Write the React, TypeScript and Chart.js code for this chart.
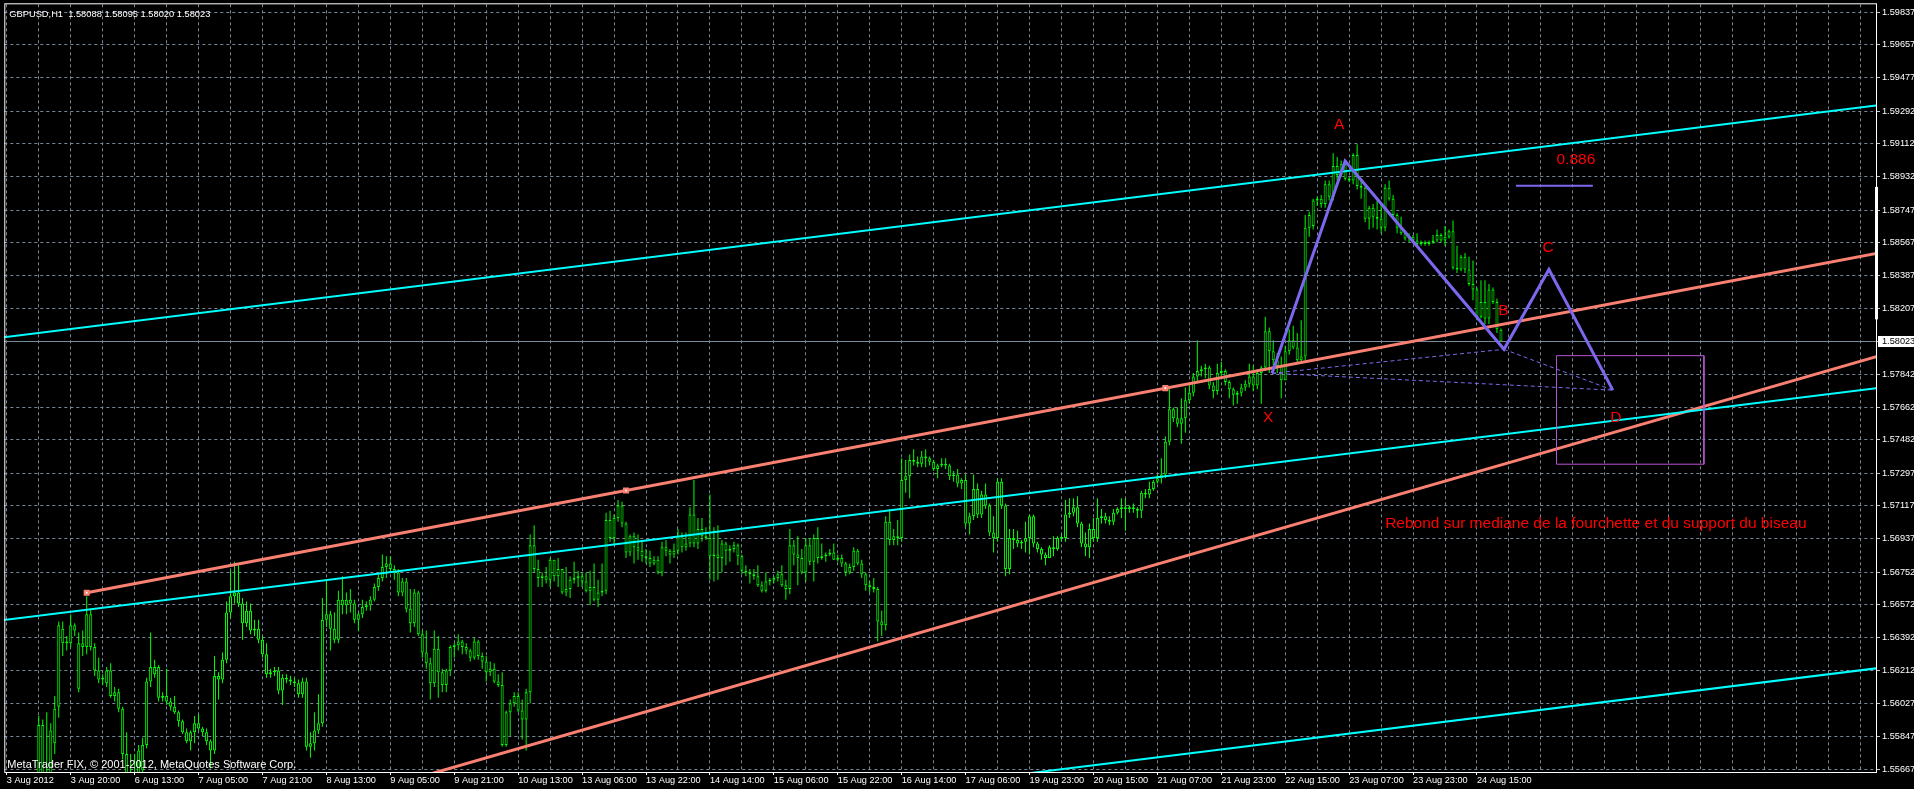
import React, { useEffect, useRef } from "react";
import { Chart, registerables } from "chart.js";

Chart.register(...registerables);

const FONT = '"Liberation Sans", Arial, sans-serif';
const symbol = "GBPUSD,H1";
const watermark = "MetaTrader FIX, \u00A9 2001-2012, MetaQuotes Software Corp.";

// x-axis labels, one every 16 hourly bars starting at bar 0
const xLabels = [
  "3 Aug 2012", "3 Aug 20:00", "6 Aug 13:00", "7 Aug 05:00", "7 Aug 21:00", "8 Aug 13:00",
  "9 Aug 05:00", "9 Aug 21:00", "10 Aug 13:00", "13 Aug 06:00", "13 Aug 22:00", "14 Aug 14:00",
  "15 Aug 06:00", "15 Aug 22:00", "16 Aug 14:00", "17 Aug 06:00", "19 Aug 23:00", "20 Aug 15:00",
  "21 Aug 07:00", "21 Aug 23:00", "22 Aug 15:00", "23 Aug 07:00", "23 Aug 23:00", "24 Aug 15:00",
];
const xLabelStep = 16;
const xGridStep = 8;

// price scale labels
const yTickValues = [
  1.59837, 1.59657, 1.59477, 1.59292, 1.59112, 1.58932, 1.58747, 1.58567, 1.58387, 1.58207,
  1.58023, 1.57842, 1.57662, 1.57482, 1.57297, 1.57117, 1.56937, 1.56752, 1.56572, 1.56392,
  1.56212, 1.56027, 1.55847, 1.55667,
];
const currentPrice = 1.58023;
const yMin = 1.55651;
const yMax = 1.59881;
const xMin = -0.625;
const xMax = 467.875;
const rangeMarker = [1.58145, 1.58875];

// GBPUSD H1 candles (bar 0 = 3 Aug 2012)
const openP = [
  1.5535,1.5540,1.5545,1.5550,1.5547,1.5542,1.5550,1.5556,1.5552,1.5591,
  1.5558,1.5560,1.5581,1.5601,1.5644,1.5636,1.5636,1.5646,1.5611,1.5634,
  1.5634,1.5652,1.5634,1.5621,1.5616,1.5614,1.5621,1.5607,1.5609,1.5600,
  1.5575,1.5564,1.5560,1.5562,1.5566,1.5580,1.5615,1.5619,1.5623,1.5606,
  1.5607,1.5604,1.5601,1.5598,1.5593,1.5587,1.5582,1.5587,1.5592,1.5589,
  1.5587,1.5582,1.5577,1.5618,1.5616,1.5627,1.5653,1.5662,1.5664,1.5658,
  1.5647,1.5654,1.5643,1.5644,1.5638,1.5630,1.5619,1.5620,1.5621,1.5610,
  1.5617,1.5616,1.5615,1.5614,1.5608,1.5615,1.5579,1.5581,1.5588,1.5592,
  1.5649,1.5652,1.5644,1.5638,1.5660,1.5657,1.5660,1.5658,1.5649,1.5652,
  1.5656,1.5657,1.5660,1.5667,1.5672,1.5678,1.5680,1.5677,1.5675,1.5664,
  1.5670,1.5655,1.5647,1.5664,1.5641,1.5631,1.5625,1.5614,1.5633,1.5620,
  1.5613,1.5621,1.5634,1.5635,1.5637,1.5634,1.5632,1.5628,1.5637,1.5629,
  1.5626,1.5620,1.5622,1.5615,1.5613,1.5580,1.5598,1.5603,1.5607,1.5599,
  1.5594,1.5609,1.5690,1.5677,1.5672,1.5673,1.5671,1.5682,1.5673,1.5677,
  1.5664,1.5666,1.5671,1.5672,1.5673,1.5670,1.5665,1.5667,1.5660,1.5664,
  1.5665,1.5704,1.5694,1.5705,1.5712,1.5702,1.5686,1.5695,1.5689,1.5687,
  1.5684,1.5683,1.5680,1.5682,1.5675,1.5689,1.5687,1.5685,1.5687,1.5695,
  1.5689,1.5691,1.5707,1.5691,1.5699,1.5695,1.5694,1.5684,1.5685,1.5683,
  1.5691,1.5687,1.5688,1.5690,1.5684,1.5676,1.5675,1.5674,1.5673,1.5668,
  1.5665,1.5670,1.5671,1.5672,1.5674,1.5668,1.5666,1.5690,1.5685,1.5683,
  1.5675,1.5690,1.5681,1.5694,1.5683,1.5684,1.5685,1.5686,1.5682,1.5683,
  1.5680,1.5675,1.5678,1.5687,1.5680,1.5674,1.5668,1.5667,1.5666,1.5648,
  1.5646,1.5703,1.5693,1.5695,1.5694,1.5726,1.5728,1.5737,1.5736,1.5735,
  1.5739,1.5738,1.5736,1.5732,1.5734,1.5735,1.5734,1.5728,1.5729,1.5724,
  1.5726,1.5702,1.5706,1.5721,1.5707,1.5718,1.5712,1.5697,1.5694,1.5725,
  1.5712,1.5677,1.5694,1.5693,1.5691,1.5692,1.5694,1.5706,1.5691,1.5688,
  1.5685,1.5683,1.5689,1.5688,1.5694,1.5694,1.5707,1.5708,1.5711,1.5702,
  1.5691,1.5689,1.5699,1.5694,1.5705,1.5706,1.5704,1.5703,1.5708,1.5710,
  1.5711,1.5710,1.5711,1.5710,1.5709,1.5719,1.5718,1.5721,1.5725,1.5727,
  1.5729,1.5747,1.5765,1.5760,1.5757,1.5760,1.5770,1.5774,1.5783,1.5786,
  1.5787,1.5788,1.5778,1.5775,1.5785,1.5786,1.5780,1.5776,1.5773,1.5774,
  1.5777,1.5779,1.5783,1.5778,1.5785,1.5788,1.5808,1.5797,1.5792,1.5789,
  1.5781,1.5797,1.5803,1.5799,1.5792,1.5794,1.5865,1.5866,1.5880,1.5881,
  1.5878,1.5889,1.5882,1.5899,1.5894,1.5900,1.5892,1.5891,1.5905,1.5888,
  1.5887,1.5870,1.5876,1.5871,1.5870,1.5865,1.5887,1.5881,1.5872,1.5865,
  1.5862,1.5859,1.5860,1.5858,1.5856,1.5857,1.5856,1.5857,1.5858,1.5861,
  1.5858,1.5860,1.5863,1.5843,1.5842,1.5849,1.5842,1.5834,1.5831,1.5816,
  1.5824,1.5815,1.5831,1.5824,1.58088,
];
const highP = [
  1.5548,1.5552,1.5556,1.5560,1.5558,1.5555,1.5562,1.5564,1.5596,1.5594,
  1.5598,1.5592,1.5607,1.5648,1.5648,1.5640,1.5652,1.5647,1.5642,1.5643,
  1.5662,1.5655,1.5636,1.5628,1.5619,1.5623,1.5625,1.5612,1.5611,1.5601,
  1.5587,1.5575,1.5575,1.5580,1.5584,1.5617,1.5642,1.5627,1.5624,1.5609,
  1.5622,1.5606,1.5607,1.5599,1.5594,1.5589,1.5588,1.5596,1.5597,1.5590,
  1.5589,1.5583,1.5629,1.5620,1.5631,1.5659,1.5676,1.5681,1.5679,1.5661,
  1.5659,1.5658,1.5649,1.5649,1.5640,1.5636,1.5622,1.5623,1.5623,1.5619,
  1.5619,1.5618,1.5617,1.5616,1.5617,1.5617,1.5587,1.5598,1.5608,1.5661,
  1.5671,1.5654,1.5653,1.5665,1.5673,1.5664,1.5666,1.5660,1.5653,1.5660,
  1.5659,1.5662,1.5669,1.5674,1.5685,1.5684,1.5684,1.5679,1.5677,1.5672,
  1.5672,1.5666,1.5666,1.5665,1.5643,1.5643,1.5628,1.5643,1.5640,1.5622,
  1.5622,1.5635,1.5636,1.5641,1.5638,1.5636,1.5633,1.5639,1.5638,1.5631,
  1.5629,1.5626,1.5625,1.5619,1.5620,1.5599,1.5605,1.5609,1.5609,1.5605,
  1.5611,1.5696,1.5701,1.5682,1.5675,1.5678,1.5683,1.5682,1.5683,1.5677,
  1.5678,1.5673,1.5681,1.5676,1.5675,1.5675,1.5676,1.5680,1.5671,1.5680,
  1.5708,1.5709,1.5707,1.5715,1.5714,1.5703,1.5696,1.5697,1.5696,1.5692,
  1.5688,1.5687,1.5684,1.5684,1.5692,1.5693,1.5688,1.5691,1.5699,1.5697,
  1.5697,1.5711,1.5726,1.5705,1.5705,1.5700,1.5718,1.5700,1.5701,1.5693,
  1.5692,1.5690,1.5692,1.5691,1.5685,1.5679,1.5677,1.5677,1.5679,1.5670,
  1.5675,1.5672,1.5673,1.5676,1.5679,1.5671,1.5699,1.5693,1.5695,1.5688,
  1.5694,1.5694,1.5696,1.5700,1.5691,1.5686,1.5688,1.5691,1.5685,1.5685,
  1.5681,1.5680,1.5689,1.5688,1.5682,1.5675,1.5670,1.5672,1.5667,1.5654,
  1.5706,1.5710,1.5699,1.5704,1.5738,1.5737,1.5740,1.5743,1.5739,1.5742,
  1.5743,1.5739,1.5737,1.5735,1.5738,1.5738,1.5735,1.5731,1.5732,1.5727,
  1.5729,1.5708,1.5729,1.5724,1.5720,1.5724,1.5713,1.5706,1.5727,1.5727,
  1.5713,1.5699,1.5699,1.5698,1.5693,1.5703,1.5707,1.5707,1.5692,1.5689,
  1.5686,1.5690,1.5695,1.5695,1.5696,1.5715,1.5716,1.5716,1.5717,1.5703,
  1.5697,1.5702,1.5705,1.5716,1.5710,1.5708,1.5706,1.5710,1.5711,1.5716,
  1.5716,1.5712,1.5713,1.5711,1.5720,1.5721,1.5725,1.5726,1.5729,1.5738,
  1.5750,1.5776,1.5766,1.5766,1.5771,1.5777,1.5779,1.5785,1.5803,1.5789,
  1.5790,1.5789,1.5780,1.5790,1.5791,1.5787,1.5781,1.5777,1.5775,1.5779,
  1.5781,1.5790,1.5789,1.5787,1.5789,1.5816,1.5810,1.5803,1.5796,1.5794,
  1.5800,1.5809,1.5811,1.5807,1.5814,1.5872,1.5874,1.5881,1.5882,1.5883,
  1.5891,1.5891,1.5906,1.5904,1.5902,1.5902,1.5893,1.5906,1.5911,1.5891,
  1.5889,1.5877,1.5878,1.5880,1.5878,1.5889,1.5891,1.5883,1.5873,1.5871,
  1.5863,1.5862,1.5861,1.5862,1.5858,1.5858,1.5858,1.5861,1.5864,1.5862,
  1.5866,1.5864,1.5869,1.5855,1.5850,1.5851,1.5849,1.5847,1.5832,1.5836,
  1.5836,1.5834,1.5832,1.5826,1.58095,
];
const lowP = [
  1.5528,1.5533,1.5538,1.5541,1.5536,1.5530,1.5544,1.5540,1.5548,1.5550,
  1.5545,1.5552,1.5575,1.5595,1.5629,1.5632,1.5634,1.5640,1.5609,1.5629,
  1.5630,1.5632,1.5618,1.5614,1.5613,1.5612,1.5606,1.5604,1.5598,1.5572,
  1.5560,1.5555,1.5552,1.5555,1.5560,1.5578,1.5612,1.5617,1.5604,1.5604,
  1.5602,1.5599,1.5597,1.5590,1.5586,1.5581,1.5577,1.5581,1.5588,1.5585,
  1.5580,1.5567,1.5575,1.5605,1.5614,1.5625,1.5650,1.5658,1.5656,1.5638,
  1.5645,1.5641,1.5640,1.5636,1.5628,1.5617,1.5617,1.5618,1.5608,1.5602,
  1.5614,1.5613,1.5612,1.5606,1.5606,1.5577,1.5573,1.5577,1.5586,1.5590,
  1.5645,1.5632,1.5636,1.5636,1.5652,1.5652,1.5653,1.5647,1.5643,1.5650,
  1.5654,1.5654,1.5659,1.5665,1.5670,1.5672,1.5675,1.5671,1.5662,1.5662,
  1.5653,1.5642,1.5645,1.5640,1.5628,1.5622,1.5605,1.5612,1.5606,1.5609,
  1.5609,1.5618,1.5628,1.5632,1.5630,1.5630,1.5626,1.5627,1.5627,1.5622,
  1.5615,1.5618,1.5614,1.5612,1.5579,1.5579,1.5585,1.5601,1.5598,1.5583,
  1.5577,1.5603,1.5675,1.5667,1.5667,1.5669,1.5667,1.5670,1.5667,1.5663,
  1.5662,1.5661,1.5669,1.5667,1.5667,1.5664,1.5657,1.5659,1.5656,1.5662,
  1.5663,1.5692,1.5690,1.5703,1.5700,1.5683,1.5684,1.5680,1.5682,1.5681,
  1.5680,1.5678,1.5679,1.5674,1.5673,1.5684,1.5680,1.5683,1.5685,1.5686,
  1.5687,1.5689,1.5689,1.5688,1.5692,1.5693,1.5671,1.5670,1.5671,1.5675,
  1.5679,1.5681,1.5686,1.5679,1.5674,1.5673,1.5669,1.5671,1.5667,1.5664,
  1.5664,1.5668,1.5669,1.5670,1.5667,1.5660,1.5663,1.5679,1.5668,1.5674,
  1.5670,1.5679,1.5670,1.5680,1.5682,1.5681,1.5684,1.5682,1.5681,1.5678,
  1.5673,1.5674,1.5676,1.5679,1.5672,1.5665,1.5664,1.5664,1.5637,1.5640,
  1.5643,1.5690,1.5690,1.5690,1.5692,1.5719,1.5716,1.5734,1.5733,1.5733,
  1.5733,1.5734,1.5731,1.5727,1.5733,1.5732,1.5726,1.5725,1.5722,1.5721,
  1.5700,1.5696,1.5704,1.5705,1.5705,1.5710,1.5695,1.5686,1.5692,1.5710,
  1.5673,1.5674,1.5688,1.5689,1.5688,1.5686,1.5685,1.5689,1.5686,1.5682,
  1.5679,1.5683,1.5684,1.5687,1.5692,1.5692,1.5705,1.5706,1.5700,1.5689,
  1.5684,1.5683,1.5692,1.5692,1.5702,1.5702,1.5701,1.5701,1.5707,1.5705,
  1.5698,1.5708,1.5708,1.5705,1.5705,1.5716,1.5716,1.5720,1.5724,1.5724,
  1.5727,1.5745,1.5758,1.5755,1.5746,1.5752,1.5768,1.5772,1.5780,1.5783,
  1.5782,1.5776,1.5771,1.5773,1.5783,1.5778,1.5771,1.5767,1.5768,1.5772,
  1.5775,1.5777,1.5775,1.5776,1.5768,1.5786,1.5785,1.5789,1.5785,1.5771,
  1.5781,1.5795,1.5798,1.5790,1.5791,1.5792,1.5860,1.5864,1.5877,1.5876,
  1.5876,1.5880,1.5880,1.5891,1.5893,1.5891,1.5890,1.5889,1.5886,1.5881,
  1.5868,1.5864,1.5865,1.5864,1.5862,1.5863,1.5880,1.5870,1.5862,1.5861,
  1.5858,1.5857,1.5857,1.5855,1.5855,1.5855,1.5855,1.5856,1.5857,1.5857,
  1.5855,1.5859,1.5842,1.5840,1.5841,1.5840,1.5833,1.5825,1.5814,1.5815,
  1.5812,1.5812,1.5823,1.5807,1.58020,
];
const closeP = [
  1.5540,1.5545,1.5550,1.5547,1.5542,1.5550,1.5556,1.5548,1.5591,1.5558,
  1.5562,1.5588,1.5600,1.5646,1.5636,1.5637,1.5646,1.5643,1.5636,1.5636,
  1.5652,1.5634,1.5621,1.5616,1.5617,1.5621,1.5607,1.5609,1.5600,1.5575,
  1.5564,1.5560,1.5562,1.5577,1.5580,1.5615,1.5623,1.5623,1.5606,1.5607,
  1.5604,1.5601,1.5598,1.5593,1.5587,1.5582,1.5587,1.5592,1.5589,1.5587,
  1.5582,1.5577,1.5618,1.5616,1.5627,1.5653,1.5662,1.5664,1.5658,1.5647,
  1.5654,1.5643,1.5644,1.5638,1.5630,1.5619,1.5620,1.5621,1.5610,1.5617,
  1.5616,1.5615,1.5614,1.5608,1.5615,1.5579,1.5581,1.5588,1.5592,1.5649,
  1.5652,1.5644,1.5638,1.5660,1.5657,1.5660,1.5658,1.5649,1.5652,1.5656,
  1.5657,1.5660,1.5667,1.5672,1.5678,1.5680,1.5677,1.5675,1.5664,1.5670,
  1.5655,1.5647,1.5664,1.5641,1.5631,1.5625,1.5614,1.5633,1.5620,1.5613,
  1.5621,1.5634,1.5635,1.5637,1.5634,1.5632,1.5628,1.5637,1.5629,1.5626,
  1.5620,1.5622,1.5615,1.5613,1.5580,1.5598,1.5603,1.5607,1.5599,1.5594,
  1.5609,1.5690,1.5677,1.5672,1.5673,1.5671,1.5682,1.5673,1.5677,1.5664,
  1.5666,1.5671,1.5672,1.5673,1.5670,1.5665,1.5667,1.5660,1.5664,1.5665,
  1.5704,1.5694,1.5705,1.5712,1.5702,1.5686,1.5695,1.5689,1.5687,1.5684,
  1.5683,1.5680,1.5682,1.5675,1.5689,1.5687,1.5685,1.5687,1.5695,1.5689,
  1.5691,1.5707,1.5691,1.5699,1.5695,1.5694,1.5684,1.5685,1.5683,1.5691,
  1.5687,1.5688,1.5690,1.5684,1.5676,1.5675,1.5674,1.5673,1.5668,1.5665,
  1.5670,1.5671,1.5672,1.5674,1.5668,1.5666,1.5690,1.5685,1.5683,1.5675,
  1.5690,1.5681,1.5694,1.5683,1.5684,1.5685,1.5686,1.5682,1.5683,1.5680,
  1.5675,1.5678,1.5687,1.5680,1.5674,1.5668,1.5667,1.5666,1.5648,1.5646,
  1.5703,1.5693,1.5695,1.5694,1.5726,1.5728,1.5737,1.5736,1.5735,1.5739,
  1.5738,1.5736,1.5732,1.5734,1.5735,1.5734,1.5728,1.5729,1.5724,1.5726,
  1.5702,1.5706,1.5721,1.5707,1.5718,1.5712,1.5697,1.5694,1.5725,1.5712,
  1.5677,1.5694,1.5693,1.5691,1.5692,1.5694,1.5706,1.5691,1.5688,1.5685,
  1.5683,1.5689,1.5688,1.5694,1.5694,1.5707,1.5708,1.5711,1.5702,1.5691,
  1.5689,1.5699,1.5694,1.5705,1.5706,1.5704,1.5703,1.5708,1.5710,1.5711,
  1.5710,1.5711,1.5710,1.5709,1.5719,1.5718,1.5721,1.5725,1.5727,1.5729,
  1.5747,1.5765,1.5760,1.5757,1.5760,1.5770,1.5774,1.5783,1.5786,1.5787,
  1.5788,1.5778,1.5775,1.5785,1.5786,1.5780,1.5776,1.5773,1.5774,1.5777,
  1.5779,1.5783,1.5778,1.5785,1.5788,1.5808,1.5797,1.5792,1.5789,1.5781,
  1.5797,1.5803,1.5799,1.5792,1.5794,1.5865,1.5872,1.5880,1.5881,1.5878,
  1.5889,1.5882,1.5899,1.5894,1.5900,1.5892,1.5891,1.5905,1.5888,1.5887,
  1.5870,1.5876,1.5871,1.5870,1.5865,1.5887,1.5881,1.5872,1.5865,1.5862,
  1.5859,1.5860,1.5858,1.5856,1.5857,1.5856,1.5857,1.5858,1.5861,1.5858,
  1.5860,1.5863,1.5843,1.5842,1.5849,1.5842,1.5834,1.5831,1.5816,1.5824,
  1.5815,1.5831,1.5824,1.5809,1.58023,
];

// drawn objects (bar index, price)
const cyanUpper = [{ x: -1, y: 1.58046 }, { x: 469, y: 1.59327 }];
const cyanMiddle = [{ x: -1, y: 1.56488 }, { x: 469, y: 1.57769 }];
const cyanLower = [{ x: -1, y: 1.54944 }, { x: 469, y: 1.56225 }];
const salmonUpper = [{ x: 20, y: 1.56639 }, { x: 469, y: 1.58513 }];
const salmonAnchors = [{ x: 20, y: 1.56639 }, { x: 155, y: 1.57202 }, { x: 290, y: 1.57766 }];
const salmonLower = [{ x: 100, y: 1.55602 }, { x: 469, y: 1.57946 }];
const ptX = { x: 316.7, y: 1.57848 };
const ptA = { x: 335, y: 1.59017 };
const ptB = { x: 374.75, y: 1.5798 };
const ptC = { x: 386, y: 1.5842 };
const ptD = { x: 402, y: 1.57755 };
const fibLine = [{ x: 377.75, y: 1.58881 }, { x: 397, y: 1.58881 }];
const targetBox = { x1: 387.9, x2: 424.8, top: 1.57945, bottom: 1.57347 };
const priceLine = [{ x: -1, y: currentPrice }, { x: 469, y: currentPrice }];

const textNotes = [
  { text: "A", i: 333.5, p: 1.59223 },
  { text: "B", i: 374.6, p: 1.58201 },
  { text: "C", i: 385.8, p: 1.58544 },
  { text: "D", i: 402.75, p: 1.57612 },
  { text: "X", i: 315.7, p: 1.57612 },
  { text: "0.886", i: 392.75, p: 1.5903 },
  { text: "Rebond sur mediane de la fourchette et du support du biseau", i: 397.75, p: 1.57026 },
];

const CYAN = "#00ffff";
const SALMON = "#fa8072";
const SLATE = "#7b68ee";
const ORCHID = "#ba55d3";
const LIME = "#00ff00";
const GRID = "#778899";

const lineDs = (data: any[], color: string, width: number, dash: number[] = [], order = 5) => ({
  type: "line",
  data,
  borderColor: color,
  borderWidth: width,
  borderDash: dash,
  pointRadius: 0,
  pointHoverRadius: 0,
  fill: false,
  tension: 0,
  order,
  clip: 0,
});

const overlayPlugin = {
  id: "overlay",
  afterDatasetsDraw(chart: any) {
    const { ctx, chartArea: a, scales } = chart;
    const xs = scales.x;
    const ys = scales.y;
    const n = closeP.length - 1;
    const title = `${symbol}  ${openP[n].toFixed(5)} ${highP[n].toFixed(5)} ${lowP[n].toFixed(5)} ${closeP[n].toFixed(5)}`;
    ctx.save();
    ctx.beginPath();
    ctx.rect(a.left, a.top, a.right - a.left, a.bottom - a.top);
    ctx.clip();
    ctx.fillStyle = "#ff0000";
    ctx.font = `15.5px ${FONT}`;
    ctx.textAlign = "center";
    ctx.textBaseline = "alphabetic";
    for (const t of textNotes) {
      ctx.fillText(t.text, xs.getPixelForValue(t.i), ys.getPixelForValue(t.p) + 5.5);
    }
    ctx.fillStyle = "#ffffff";
    ctx.textAlign = "left";
    ctx.font = `11px ${FONT}`;
    ctx.fillText(watermark, a.left + 3, a.bottom - 4);
    ctx.font = `9.3px ${FONT}`;
    ctx.fillText(title, a.left + 5, a.top + 12.5);
    ctx.restore();

    ctx.save();
    ctx.strokeStyle = "#ffffff";
    ctx.lineWidth = 1;
    ctx.strokeRect(a.left + 0.5, a.top - 0.5, a.right - a.left, a.bottom - a.top + 1);
    const y1 = ys.getPixelForValue(rangeMarker[1]);
    const y2 = ys.getPixelForValue(rangeMarker[0]);
    ctx.fillStyle = "#ffffff";
    ctx.fillRect(a.right - 1, y1, 3, y2 - y1);
    ctx.restore();
  },
};

export default function App() {
  const ref = useRef<HTMLCanvasElement>(null);

  useEffect(() => {
    document.body.style.margin = "0";
    document.body.style.background = "#000";
    const idx = closeP.map((_, i) => i);
    const wickData = idx.map((i) => ({ x: i, y: [lowP[i], highP[i]] }));
    const bodyData = idx.map((i) => ({
      x: i,
      y: [Math.min(openP[i], closeP[i]), Math.max(openP[i], closeP[i])],
    }));
    const gridIdx: number[] = [];
    for (let v = 0; v <= xMax; v += xGridStep) gridIdx.push(v);

    const boxData = [
      { x: targetBox.x1, y: targetBox.top },
      { x: targetBox.x2, y: targetBox.top },
      { x: targetBox.x2, y: targetBox.bottom },
      { x: targetBox.x1, y: targetBox.bottom },
      { x: targetBox.x1, y: targetBox.top },
    ];

    const chart = new Chart(ref.current as HTMLCanvasElement, {
      type: "bar",
      data: {
        datasets: [
          {
            type: "bar",
            label: "wick",
            data: wickData,
            backgroundColor: LIME,
            borderWidth: 0,
            maxBarThickness: 1,
            barPercentage: 1,
            categoryPercentage: 1,
            grouped: false,
            order: 20,
            clip: 0,
            inflateAmount: 0,
          },
          {
            type: "bar",
            label: "body",
            data: bodyData,
            backgroundColor: "#000000",
            borderColor: LIME,
            borderWidth: 1,
            borderSkipped: false,
            maxBarThickness: 3,
            barPercentage: 1,
            categoryPercentage: 1,
            minBarLength: 1,
            grouped: false,
            order: 19,
            clip: 0,
            inflateAmount: 0,
          },
          lineDs(priceLine, GRID, 1, [], 9),
          lineDs(cyanUpper, CYAN, 2),
          lineDs(cyanMiddle, CYAN, 2),
          lineDs(cyanLower, CYAN, 2),
          lineDs(salmonUpper, SALMON, 3),
          lineDs(salmonLower, SALMON, 3),
          {
            type: "line",
            data: salmonAnchors,
            showLine: false,
            pointStyle: "rect",
            pointRadius: 4.3,
            pointBackgroundColor: SALMON,
            pointBorderWidth: 0,
            order: 4,
            clip: 0,
          },
          {
            type: "line",
            data: salmonAnchors,
            showLine: false,
            pointStyle: "rect",
            pointRadius: 1.2,
            pointBackgroundColor: "#ffffff",
            pointBorderWidth: 0,
            order: 3,
            clip: 0,
          },
          lineDs(boxData, ORCHID, 1, [], 4),
          lineDs([ptX, ptB], SLATE, 1, [4, 3], 3),
          lineDs([ptB, ptD], SLATE, 1, [4, 3], 3),
          lineDs([ptX, ptD], SLATE, 1, [4, 3], 3),
          lineDs(fibLine, SLATE, 2, [], 2),
          lineDs([ptX, ptA, ptB, ptC, ptD], SLATE, 3, [], 1),
        ] as any,
      },
      options: {
        responsive: false,
        animation: false,
        devicePixelRatio: 1,
        events: [],
        layout: { padding: { left: 2, top: 2, right: 0, bottom: 0 } },
        plugins: { legend: { display: false }, tooltip: { enabled: false } },
        scales: {
          x: {
            type: "linear",
            position: "bottom",
            offset: false,
            min: xMin,
            max: xMax,
            afterBuildTicks: (s: any) => {
              s.ticks = gridIdx.map((v) => ({ value: v }));
            },
            afterFit: (s: any) => {
              s.height = 17;
              s.paddingLeft = 0;
              s.paddingRight = 0;
            },
            ticks: {
              color: "#ffffff",
              font: { family: FONT, size: 9.2 },
              align: "start",
              maxRotation: 0,
              minRotation: 0,
              autoSkip: false,
              padding: 0,
              callback: (v: any) => {
                const k = Number(v) / xLabelStep;
                return Number.isInteger(k) && k < xLabels.length ? xLabels[k] : "";
              },
            },
            grid: {
              offset: false,
              color: GRID,
              lineWidth: 1,
              tickLength: 3,
              tickColor: (c: any) => {
                const k = c.tick ? c.tick.value / xLabelStep : -1;
                return Number.isInteger(k) && k >= 0 && k < xLabels.length ? "#ffffff" : "rgba(0,0,0,0)";
              },
            },
            border: { display: false, dash: [3, 3] },
          },
          y: {
            type: "linear",
            position: "right",
            offset: false,
            min: yMin,
            max: yMax,
            afterBuildTicks: (s: any) => {
              s.ticks = yTickValues.map((v) => ({ value: v }));
            },
            afterFit: (s: any) => {
              s.width = 38;
              s.paddingTop = 0;
              s.paddingBottom = 0;
            },
            ticks: {
              color: (c: any) => (c.tick && c.tick.value === currentPrice ? "#000000" : "#ffffff"),
              font: { family: FONT, size: 9.2 },
              padding: 2,
              autoSkip: false,
              crossAlign: "near",
              showLabelBackdrop: (c: any) => !!(c.tick && c.tick.value === currentPrice),
              backdropColor: "#ffffff",
              backdropPadding: { left: 4, right: 6, top: 0, bottom: 0 },
              callback: (v: any) => Number(v).toFixed(5),
            },
            grid: {
              offset: false,
              color: GRID,
              lineWidth: 1,
              tickLength: 4,
              tickColor: "#c8c8c8",
            },
            border: { display: false, dash: [3, 3] },
          },
        },
      } as any,
      plugins: [overlayPlugin],
    });
    return () => chart.destroy();
  }, []);

  return (
    <div style={{ position: "fixed", left: 0, top: 0, width: 1914, height: 789, background: "#000" }}>
      <canvas ref={ref} width={1914} height={789} style={{ display: "block", width: 1914, height: 789 }} />
    </div>
  );
}
